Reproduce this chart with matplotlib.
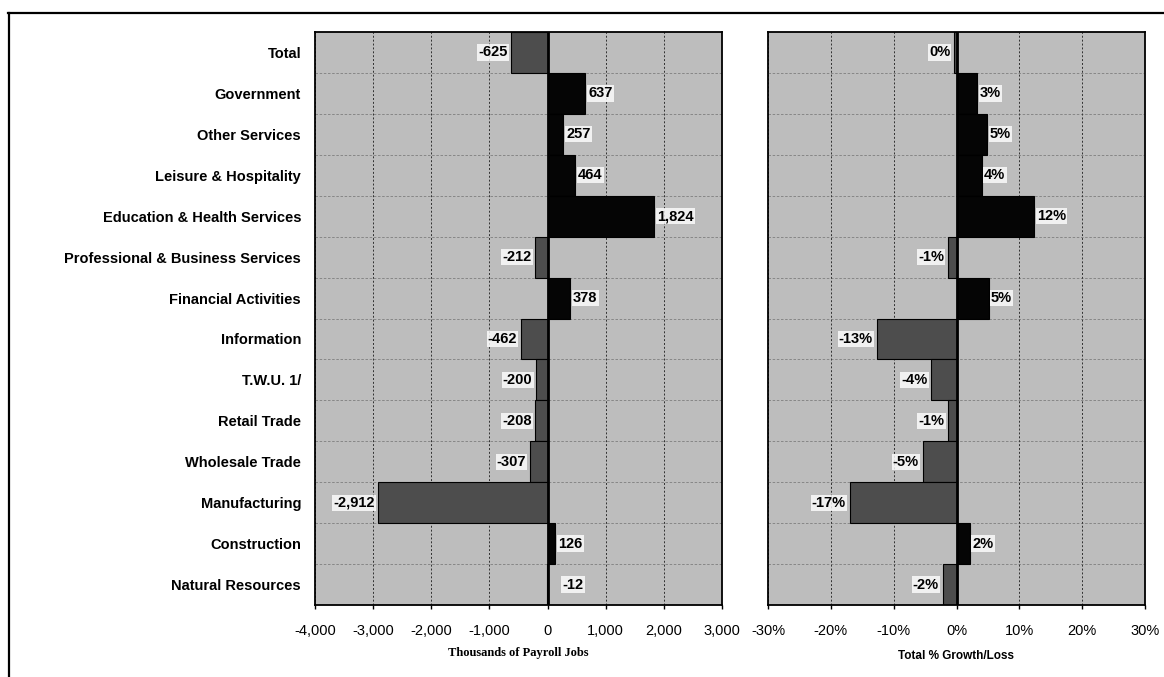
import matplotlib
matplotlib.use("Agg")
import matplotlib.pyplot as plt
from matplotlib.lines import Line2D
from matplotlib.ticker import FuncFormatter, MultipleLocator

categories = ["Total", "Government", "Other Services", "Leisure & Hospitality",
              "Education & Health Services", "Professional & Business Services",
              "Financial Activities", "Information", "T.W.U. 1/", "Retail Trade",
              "Wholesale Trade", "Manufacturing", "Construction", "Natural Resources"]
jobs = [-625, 637, 257, 464, 1824, -212, 378, -462, -200, -208, -307, -2912, 126, -12]
pct = [-0.4, 3.3, 4.9, 4.0, 12.4, -1.4, 5.1, -12.7, -4.0, -1.3, -5.4, -17.0, 2.1, -2.2]

BG = "#bdbdbd"
POS = "#050505"
NEG = "#4d4d4d"

plt.rcParams['font.family'] = ['Liberation Sans', 'DejaVu Sans']

fig = plt.figure(figsize=(11.64, 6.77), dpi=100)
W, H = 1164, 677

def ax_rect(x0, x1, y0, y1):
    return [x0 / W, 1 - y1 / H, (x1 - x0) / W, (y1 - y0) / H]

ax1 = fig.add_axes(ax_rect(315, 722, 32, 605))
ax2 = fig.add_axes(ax_rect(768, 1145, 32, 605))

n = len(categories)
ypos = list(range(n))

def style(ax, xlim, step, fmt):
    ax.set_facecolor(BG)
    ax.set_xlim(*xlim)
    ax.set_ylim(n - 0.5, -0.5)
    ax.xaxis.set_major_locator(MultipleLocator(step))
    ax.xaxis.set_major_formatter(FuncFormatter(fmt))
    for x in range(int(xlim[0]), int(xlim[1]) + 1, int(step)):
        ax.axvline(x, color="#303030", lw=0.7, ls=(0, (2, 2)), zorder=1)
    for b in range(n - 1):
        ax.axhline(b + 0.5, color="#404040", lw=0.6, ls=(0, (3, 2)), zorder=1, alpha=0.5)
    for s in ax.spines.values():
        s.set_linewidth(1.3)
        s.set_color("black")
    ax.tick_params(axis="x", length=3, width=1, pad=11, labelsize=10.5)
    ax.tick_params(axis="y", length=0)

style(ax1, (-4000, 3000), 1000, lambda v, p: f"{int(v):,}")
style(ax2, (-30, 30), 10, lambda v, p: f"{int(v)}%")

colors1 = [POS if v > 0 else NEG for v in jobs]
colors2 = [POS if v > 0 else NEG for v in pct]
ax1.barh(ypos, jobs, height=1.0, color=colors1, edgecolor="black", linewidth=0.8, zorder=2)
ax2.barh(ypos, pct, height=1.0, color=colors2, edgecolor="black", linewidth=0.8, zorder=2)
ax1.axvline(0, color="black", lw=2, zorder=3)
ax2.axvline(0, color="black", lw=2, zorder=3)

ax1.set_yticks(ypos)
ax1.set_yticklabels(categories, fontsize=10.5, fontweight="bold")
ax1.tick_params(axis="y", pad=10)
ax2.set_yticks([])

box = dict(facecolor="white", edgecolor="none", pad=0.8, alpha=0.8)
for y, v in zip(ypos, jobs):
    if v < 0 and v > -50:
        ax1.text(v + 450, y, f"{v:,}", ha="center", va="center", fontsize=10.5,
                 fontweight="bold", bbox=box, zorder=4)
    elif v >= 0:
        ax1.text(v + 60, y, f"{v:,}", ha="left", va="center", fontsize=10.5,
                 fontweight="bold", bbox=box, zorder=4)
    else:
        ax1.text(v - 60, y, f"{v:,}", ha="right", va="center", fontsize=10.5,
                 fontweight="bold", bbox=box, zorder=4)

for y, v in zip(ypos, pct):
    lab = f"{int(round(v))}%"
    if v > 0:
        ax2.text(v + 0.4, y, lab, ha="left", va="center", fontsize=10.5,
                 fontweight="bold", bbox=box, zorder=4)
    else:
        ax2.text(v - 0.6, y, lab, ha="right", va="center", fontsize=10.5,
                 fontweight="bold", bbox=box, zorder=4)

ax1.set_xlabel("Thousands of Payroll Jobs", fontsize=9, fontweight="bold",
               family=["Liberation Serif", "DejaVu Serif"], labelpad=6)
ax2.set_xlabel("Total % Growth/Loss", fontsize=8.5, fontweight="bold", labelpad=8)

# outer frame (top and left)
fig.add_artist(Line2D([8 / W, 1.0], [1 - 13 / H, 1 - 13 / H], color="black", lw=1.6,
                      transform=fig.transFigure))
fig.add_artist(Line2D([9 / W, 9 / W], [0, 1 - 13 / H], color="black", lw=1.6,
                      transform=fig.transFigure))

fig.savefig("out.png", dpi=100)
